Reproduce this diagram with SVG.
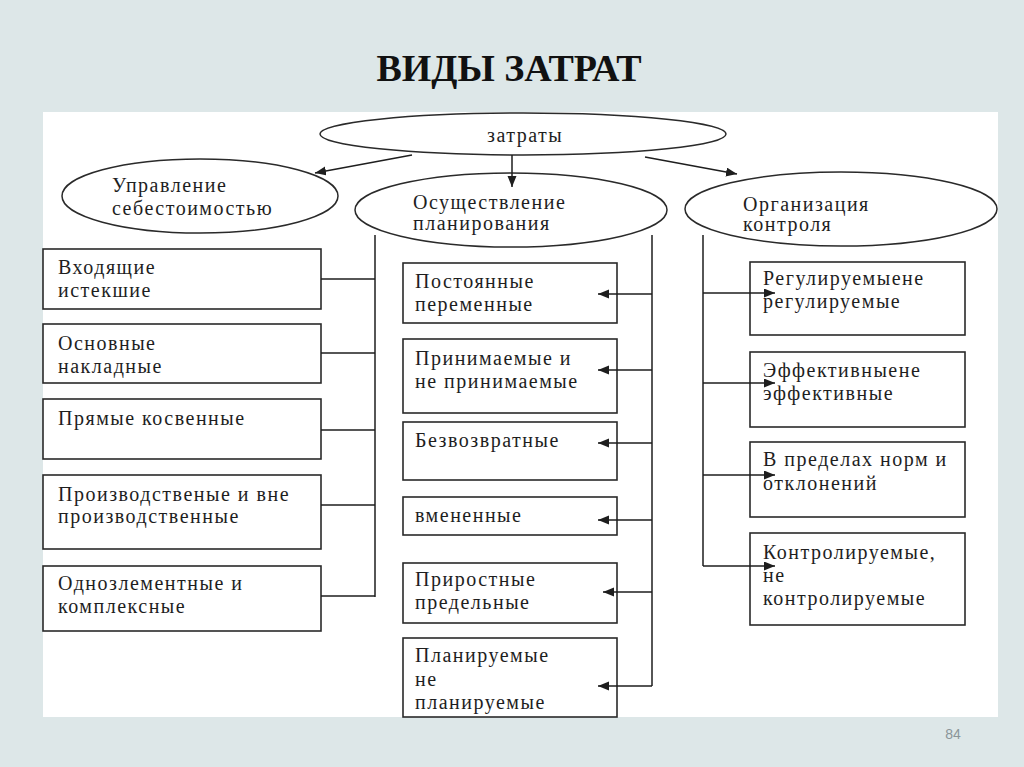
<svg xmlns="http://www.w3.org/2000/svg" width="1024" height="767" viewBox="0 0 1024 767">
<defs>
<marker id="ah" markerUnits="userSpaceOnUse" markerWidth="12" markerHeight="10" refX="11" refY="4.5" orient="auto">
<path d="M0,0 L11,4.5 L0,9 z" fill="#1e1e1e"/>
</marker>
<style>
.ell{fill:#fff;stroke:#2a2a2a;stroke-width:1.5}
.box{fill:#fff;stroke:#2a2a2a;stroke-width:1.6}
.t{font-family:"Liberation Serif","Times New Roman",serif;font-size:20px;letter-spacing:1.5px;fill:#1e1e1e}
.ln{stroke:#1e1e1e;stroke-width:1.5;fill:none}
.ar{stroke:#1e1e1e;stroke-width:1.5;fill:none;marker-end:url(#ah)}
</style>
</defs>
<rect x="0" y="0" width="1024" height="767" fill="#dde7e8"/>
<rect x="43" y="112" width="955" height="605" fill="#fff"/>
<text x="509" y="81" text-anchor="middle" font-family="'Liberation Serif','Times New Roman',serif" font-size="38" font-weight="bold" fill="#111">ВИДЫ ЗАТРАТ</text>
<text x="953" y="739" text-anchor="middle" font-family="'Liberation Sans',Arial,sans-serif" font-size="14" fill="#8a9598">84</text>

<g id="n-zatraty"><ellipse class="ell" cx="523" cy="134" rx="203" ry="21"/><text class="t" x="487" y="142">затраты</text></g>
<g id="n-upravlenie"><ellipse class="ell" cx="200" cy="196" rx="138" ry="37"/><text class="t" x="112" y="192">Управление</text><text class="t" x="112" y="215">себестоимостью</text></g>
<g id="n-planirovanie"><ellipse class="ell" cx="511" cy="210" rx="156" ry="37"/><text class="t" x="413" y="209">Осуществление</text><text class="t" x="413" y="230">планирования</text></g>
<g id="n-kontrol"><ellipse class="ell" cx="841" cy="209" rx="156" ry="37"/><text class="t" x="743" y="211">Организация</text><text class="t" x="743" y="231">контроля</text></g>

<g id="l1"><rect class="box" x="43" y="249" width="278" height="60"/><text class="t" x="58" y="274">Входящие</text><text class="t" x="58" y="297">истекшие</text></g>
<g id="l2"><rect class="box" x="43" y="324" width="278" height="59"/><text class="t" x="58" y="350">Основные</text><text class="t" x="58" y="373">накладные</text></g>
<g id="l3"><rect class="box" x="43" y="399" width="278" height="60"/><text class="t" x="58" y="425">Прямые косвенные</text></g>
<g id="l4"><rect class="box" x="43" y="475" width="278" height="74"/><text class="t" x="58" y="501">Производственые и вне</text><text class="t" x="58" y="523">производственные</text></g>
<g id="l5"><rect class="box" x="43" y="566" width="278" height="65"/><text class="t" x="58" y="590">Однозлементные и</text><text class="t" x="58" y="613">комплексные</text></g>

<g id="m1"><rect class="box" x="403" y="263" width="214" height="60"/><text class="t" x="415" y="288">Постоянные</text><text class="t" x="415" y="311">переменные</text></g>
<g id="m2"><rect class="box" x="403" y="339" width="214" height="74"/><text class="t" x="415" y="365">Принимаемые и</text><text class="t" x="415" y="388">не принимаемые</text></g>
<g id="m3"><rect class="box" x="403" y="422" width="214" height="58"/><text class="t" x="415" y="447">Безвозвратные</text></g>
<g id="m4"><rect class="box" x="403" y="497" width="214" height="38"/><text class="t" x="415" y="522">вмененные</text></g>
<g id="m5"><rect class="box" x="403" y="563" width="214" height="60"/><text class="t" x="415" y="586">Приростные</text><text class="t" x="415" y="609">предельные</text></g>
<g id="m6"><rect class="box" x="403" y="638" width="214" height="79"/><text class="t" x="415" y="662">Планируемые</text><text class="t" x="415" y="686">не</text><text class="t" x="415" y="709">планируемые</text></g>

<g id="r1"><rect class="box" x="750" y="262" width="215" height="73"/><text class="t" x="763" y="285">Регулируемыене</text><text class="t" x="763" y="308">регулируемые</text></g>
<g id="r2"><rect class="box" x="750" y="352" width="215" height="75"/><text class="t" x="763" y="377">Эффективныене</text><text class="t" x="763" y="400">эффективные</text></g>
<g id="r3"><rect class="box" x="750" y="442" width="215" height="75"/><text class="t" x="763" y="466">В пределах норм и</text><text class="t" x="763" y="490">отклонений</text></g>
<g id="r4"><rect class="box" x="750" y="533" width="215" height="92"/><text class="t" x="763" y="559">Контролируемые,</text><text class="t" x="763" y="582">не</text><text class="t" x="763" y="605">контролируемые</text></g>

<g id="connectors">
<line class="ar" x1="412" y1="155" x2="315" y2="173"/>
<line class="ar" x1="512" y1="155" x2="512" y2="187"/>
<line class="ar" x1="645" y1="157" x2="737" y2="174"/>
<line class="ln" x1="375" y1="235" x2="375" y2="597"/>
<line class="ln" x1="321" y1="279" x2="375" y2="279"/>
<line class="ln" x1="321" y1="353" x2="375" y2="353"/>
<line class="ln" x1="321" y1="430" x2="375" y2="430"/>
<line class="ln" x1="321" y1="505" x2="375" y2="505"/>
<line class="ln" x1="321" y1="596" x2="375" y2="596"/>
<line class="ln" x1="652" y1="235" x2="652" y2="686"/>
<line class="ar" x1="652" y1="294" x2="598" y2="294"/>
<line class="ar" x1="652" y1="370" x2="598" y2="370"/>
<line class="ar" x1="652" y1="443" x2="598" y2="443"/>
<line class="ar" x1="652" y1="520" x2="598" y2="520"/>
<line class="ar" x1="652" y1="592" x2="603" y2="592"/>
<line class="ar" x1="652" y1="686" x2="598" y2="686"/>
<line class="ln" x1="703" y1="235" x2="703" y2="566"/>
<line class="ar" x1="703" y1="293" x2="775" y2="293"/>
<line class="ar" x1="703" y1="383" x2="775" y2="383"/>
<line class="ar" x1="703" y1="475" x2="775" y2="475"/>
<line class="ar" x1="703" y1="566" x2="775" y2="566"/>
</g>
</svg>
